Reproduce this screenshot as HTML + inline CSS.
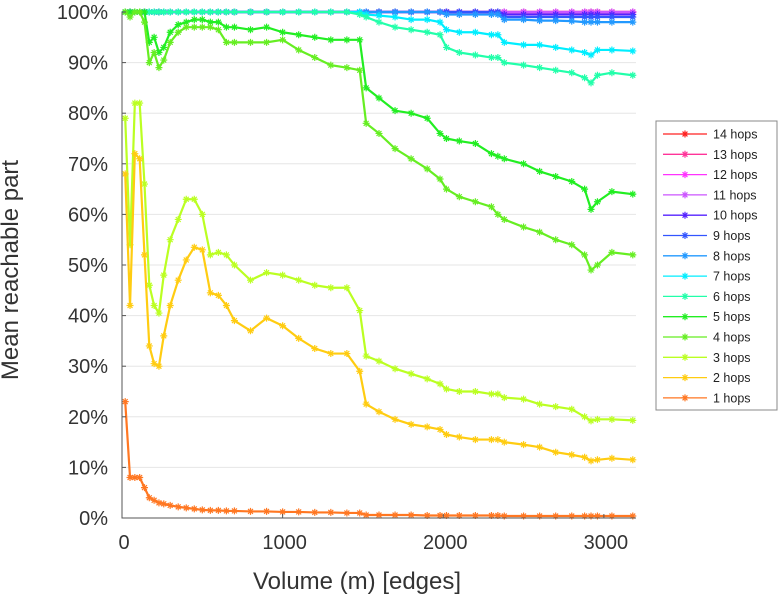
<!DOCTYPE html>
<html><head><meta charset="utf-8"><style>
html,body{margin:0;padding:0;background:#fff;}
svg{display:block;font-family:"Liberation Sans",sans-serif;}
</style></head><body>
<svg id="chart" width="781" height="600" viewBox="0 0 781 600">
<g id="grid"></g>
<g id="series"></g>
<g id="axes"></g>
<text x="18" y="270" font-size="24" fill="#333" text-anchor="middle" transform="rotate(-90 18 270)">Mean reachable part</text>
<text x="357" y="589" font-size="24" fill="#333" text-anchor="middle">Volume (m) [edges]</text>
<g id="legend"></g>
</svg>
<script>
const xVals=[20,50,80,110,140,170,200,230,260,300,350,400,450,500,550,600,650,700,800,900,1000,1100,1200,1300,1400,1480,1520,1600,1700,1800,1900,1980,2020,2100,2200,2300,2340,2380,2500,2600,2700,2800,2880,2920,2960,3050,3180];
const hop1=[23,8,8,8,6,4,3.5,3,2.8,2.5,2.2,2,1.8,1.6,1.5,1.5,1.4,1.4,1.3,1.3,1.2,1.2,1.1,1.1,1,1,0.6,0.6,0.6,0.6,0.5,0.5,0.5,0.5,0.5,0.5,0.5,0.4,0.4,0.4,0.4,0.4,0.4,0.4,0.4,0.4,0.4];
const hop2=[68,42,72,71,52,34,30.5,30,36,42,47,51,53.5,53,44.5,44,42,39,37,39.5,38,35.5,33.5,32.5,32.5,29,22.5,21,19.5,18.5,18,17.5,16.5,16,15.5,15.5,15.5,15,14.5,14,13,12.5,12,11.3,11.5,11.8,11.5];
const hop3=[79,54,82,82,66,46,42,40.5,48,55,59,63,63,60,52,52.5,52,50,47,48.5,48,47,46,45.5,45.5,41,32,31,29.5,28.5,27.5,26.5,25.5,25,25,24.5,24.5,23.8,23.5,22.5,22,21.5,20,19.2,19.5,19.5,19.3];
const hop4=[100,99,100,100,98,90,92,89,90.5,94,96,97,97,97,97,96.5,94,94,94,94,94.5,92.5,91,89.5,89,88.5,78,76,73,71,69,67,65,63.5,62.5,61.5,60,59,57.5,56.5,55,54,52,49,50,52.5,52];
const hop5=[100,100,100,100,100,94,95,92,93,96,97.5,98,98.5,98.5,98,98,97,97,96.5,97,96,95.5,95,94.5,94.5,94.5,85,83,80.5,80,79,76,75,74.5,74,72,71.5,71,70,68.5,67.5,66.5,65,61,62.5,64.5,64];
const hop6=[100,100,100,100,100,100,100,100,100,100,100,100,100,100,100,100,100,100,100,100,100,100,100,100,100,99.5,99,98,97,96.5,96,95.5,93,92,91.5,91,91,90,89.5,89,88.5,88,87,86,87.5,88,87.5];
const hop7=[100,100,100,100,100,100,100,100,100,100,100,100,100,100,100,100,100,100,100,100,100,100,100,100,100,100,99.5,99.3,99,98.5,98.5,98,96.5,96,96,95.5,95.5,94,93.5,93.5,93,92.5,92,91.5,92.5,92.5,92.3];
const hop8=[100,100,100,100,100,100,100,100,100,100,100,100,100,100,100,100,100,100,100,100,100,100,100,100,100,100,100,100,100,100,100,100,99.5,99.5,99.5,99.5,99.5,98.5,98.5,98.3,98.3,98.2,98,98,98,98,98];
const hop9=[100,100,100,100,100,100,100,100,100,100,100,100,100,100,100,100,100,100,100,100,100,100,100,100,100,100,100,100,100,100,100,100,100,100,100,100,100,99,99,99,99,99,99,99,99,99,99];
const hop10=[100,100,100,100,100,100,100,100,100,100,100,100,100,100,100,100,100,100,100,100,100,100,100,100,100,100,100,100,100,100,100,100,100,100,100,100,100,99.5,99.5,99.5,99.5,99.5,99.5,99.5,99.5,99.5,99.5];
const hop11=xVals.map(()=>100);
const hop12=xVals.map(()=>100);
const hop13=xVals.map(()=>100);
const hop14=xVals.map(()=>100);
const seriesLabels=["1 hops","2 hops","3 hops","4 hops","5 hops","6 hops","7 hops","8 hops","9 hops","10 hops","11 hops","12 hops","13 hops","14 hops"];
const seriesData=[hop1,hop2,hop3,hop4,hop5,hop6,hop7,hop8,hop9,hop10,hop11,hop12,hop13,hop14];
const colors=["#ff7722","#ffcc11","#bbff22","#66ee22","#22ee22","#22ffaa","#00eeff","#2299ff","#3355ff","#5522ff","#cc55ff","#ff33ff","#ff3399","#ff2020"];
const yTicks=[0,10,20,30,40,50,60,70,80,90,100];
const xTicks=[0,1000,2000,3000];

const NS="http://www.w3.org/2000/svg";
const X0=122,X1=636,Y0=518,Y1=12,XMAX=3200;
const sx=v=>X0+v/XMAX*(X1-X0);
const sy=v=>Y0-v/100*(Y0-Y1);
function mk(tag,attrs,parent){const e=document.createElementNS(NS,tag);for(const k in attrs)e.setAttribute(k,attrs[k]);parent.appendChild(e);return e;}
const grid=document.getElementById('grid'),axes=document.getElementById('axes'),sg=document.getElementById('series'),lg=document.getElementById('legend');
yTicks.forEach(t=>{
  const l=mk('line',{x1:X0,x2:X1,y1:sy(t),y2:sy(t),stroke:'#e6e6e6','stroke-width':1},grid);
  
  
  const tk=mk('line',{x1:X0,x2:X0+4,y1:sy(t),y2:sy(t),stroke:'#555'},axes);
  
  
  const tx=mk('text',{x:X0-14,y:sy(t)+7,'font-size':20,fill:'#333','text-anchor':'end'},axes);
  tx.textContent=t+'%';
  
  
});
xTicks.forEach(t=>{
  const tk=mk('line',{x1:sx(t),x2:sx(t),y1:Y0,y2:Y0-4,stroke:'#555'},axes);
  
  
  const tx=mk('text',{x:sx(t)+2,y:Y0+31,'font-size':20,fill:'#333','text-anchor':'middle'},axes);
  tx.textContent=t;
  
  
});
const ax=mk('path',{d:`M${X0},${Y1} V${Y0} H${X1}`,stroke:'#555',fill:'none','stroke-width':1},axes);


function star(x,y,r,c,parent){
  const d=`M${x-r},${y}H${x+r}M${x},${y-r}V${y+r}M${x-r*0.7},${y-r*0.7}L${x+r*0.7},${y+r*0.7}M${x-r*0.7},${y+r*0.7}L${x+r*0.7},${y-r*0.7}`;
  return mk('path',{d:d,stroke:c,'stroke-width':1.2,fill:'none'},parent);
}
for(let i=seriesData.length-1;i>=0;i--){
  const vals=seriesData[i];
  const g=mk('g',{},sg);
  
  
  const pts=vals.map((v,j)=>sx(xVals[j])+','+sy(v)).join(' ');
  const pl=mk('polyline',{points:pts,fill:'none',stroke:colors[i],'stroke-width':2.2,'stroke-linejoin':'round'},g);
  
  
  vals.forEach((v,j)=>{
    const m=star(sx(xVals[j]),sy(v),3.5,colors[i],g);
    
    
  });
}
const box=mk('rect',{x:656,y:121,width:121,height:289,fill:'#fff',stroke:'#888','stroke-width':1},lg);


for(let k=0;k<14;k++){
  const i=13-k, y=134+k*20.3;
  const g=mk('g',{},lg);
  
  
  mk('line',{x1:663,x2:707,y1:y,y2:y,stroke:colors[i],'stroke-width':1.3},g);
  star(685,y,3.5,colors[i],g);
  const t=mk('text',{x:713,y:y+4.5,'font-size':12.5,fill:'#222'},g);
  t.textContent=seriesLabels[i];
}
</script>
</body></html>
